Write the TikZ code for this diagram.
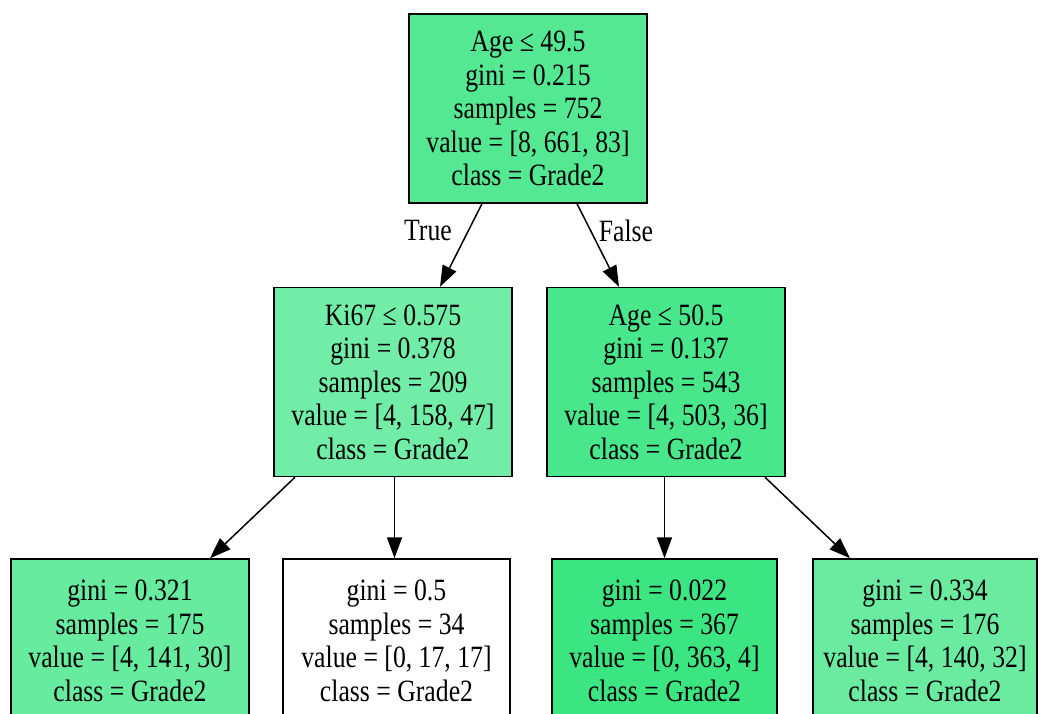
\documentclass[tikz,border=0pt]{standalone}
\usepackage{fontspec}
\setmainfont{Liberation Serif}[FakeStretch=0.83]
\usetikzlibrary{arrows.meta,calc}
% node fills, shaded by class purity
\definecolor{fillroot}{HTML}{54E892}
\definecolor{fillki}{HTML}{72EDA7}
\definecolor{fillage}{HTML}{49E78B}
\definecolor{fillleafa}{HTML}{67EB9E}
\definecolor{fillleafc}{HTML}{3BE582}
\definecolor{fillleafd}{HTML}{6BEBA0}
\begin{document}
\begin{tikzpicture}[x=1pt,y=-1pt,
  treenode/.style={draw=black, line width=1.5pt, rectangle, inner sep=0pt,
    align=center, font=\fontsize{31}{33.5}\selectfont, text=black},
  split/.style={treenode, minimum width=238pt, minimum height=189pt},
  leaf/.style={treenode, minimum height=164pt},
  edge/.style={-{Triangle[length=21pt,width=15pt]}, line width=1.5pt},
  lbl/.style={font=\fontsize{31}{33.5}\selectfont, inner sep=0pt}]
\clip (0,0) rectangle (1041,714);

% split nodes
\node[split, fill=fillroot] (root) at (528,108.5)
  {Age ≤ 49.5\\gini = 0.215\\samples = 752\\value = [8, 661, 83]\\class = Grade2};
\node[split, fill=fillki] (ki) at (393,382)
  {Ki67 ≤ 0.575\\gini = 0.378\\samples = 209\\value = [4, 158, 47]\\class = Grade2};
\node[split, fill=fillage] (age) at (666,382)
  {Age ≤ 50.5\\gini = 0.137\\samples = 543\\value = [4, 503, 36]\\class = Grade2};

% leaves (their lower edges run past the bottom of the page)
\node[leaf, fill=fillleafa, minimum width=238pt] (l1) at (130,641)
  {gini = 0.321\\samples = 175\\value = [4, 141, 30]\\class = Grade2};
\node[leaf, fill=white, minimum width=227pt] (l2) at (396.5,641)
  {gini = 0.5\\samples = 34\\value = [0, 17, 17]\\class = Grade2};
\node[leaf, fill=fillleafc, minimum width=225pt] (l3) at (664.5,641)
  {gini = 0.022\\samples = 367\\value = [0, 363, 4]\\class = Grade2};
\node[leaf, fill=fillleafd, minimum width=224pt] (l4) at (925,641)
  {gini = 0.334\\samples = 176\\value = [4, 140, 32]\\class = Grade2};

% connectors
\draw[edge] ($(root.south)+(-46,0)$) -- ($(ki.north)+(47,0)$);
\draw[edge] ($(root.south)+(49,0)$) -- ($(age.north)+(-47,0)$);
\draw[edge] ($(ki.south)+(-98,0)$) -- ($(l1.north)+(80,0)$);
\draw[edge] ($(ki.south)+(1.5,0)$) -- ($(l2.north)+(-2,0)$);
\draw[edge] ($(age.south)+(-1.5,0)$) -- ($(l3.north)+(0,0)$);
\draw[edge] ($(age.south)+(99,0)$) -- ($(l4.north)+(-75,0)$);

% branch labels
\node[lbl] (truelbl) at (428,231) {True};
\node[lbl] (falselbl) at (626,231) {False};
\end{tikzpicture}
\end{document}
